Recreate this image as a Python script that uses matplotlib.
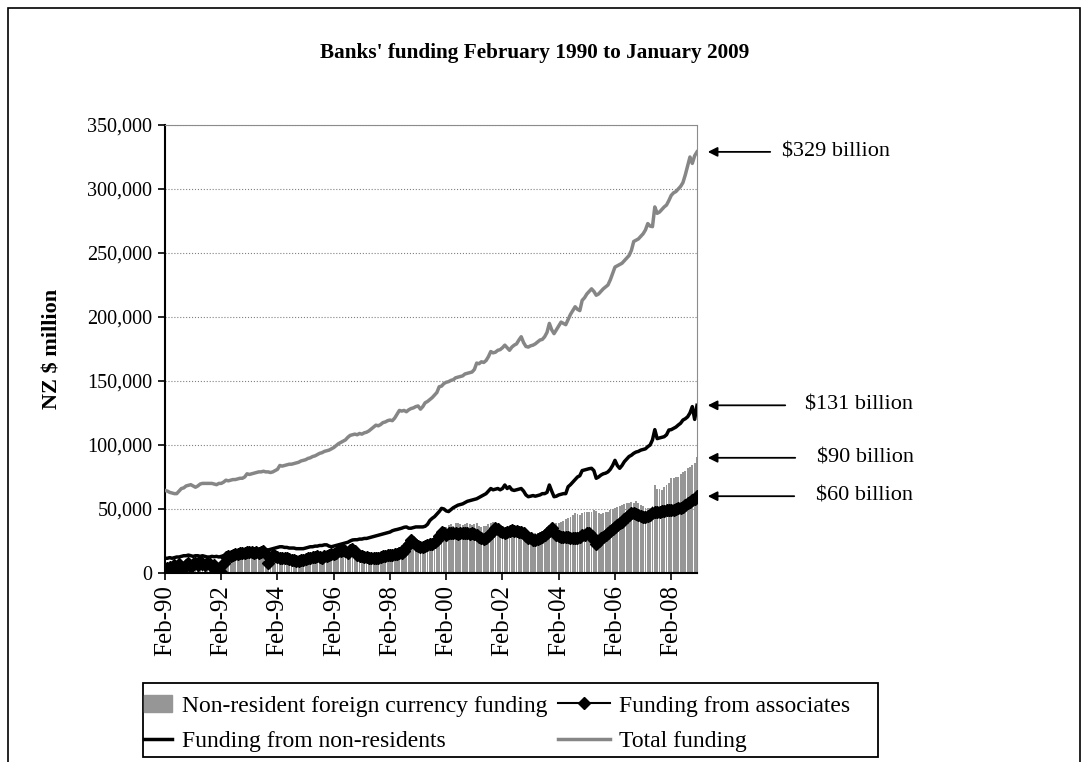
import numpy as np
import matplotlib
matplotlib.use("Agg")
import matplotlib.pyplot as plt
from matplotlib.ticker import FuncFormatter
from matplotlib.lines import Line2D
from matplotlib.patches import Patch, Rectangle

plt.rcParams['font.family'] = ['Liberation Serif', 'DejaVu Serif']

# monthly values, Feb-1990 .. Jan-2009, NZ$ billion (one row = Feb..Jan)
total_funding = [
    64.5, 64, 63, 62.5, 62, 62, 64, 66, 66.5, 68, 68.5, 69,
    68, 67, 68, 69.5, 70, 70, 70, 70, 70, 69.5, 69, 70,
    70, 71, 72.5, 72, 72.5, 73, 73, 73.5, 74, 74, 75, 77.5,
    77, 77.5, 78, 78.5, 79, 79, 79.5, 79, 79, 78.5, 79, 80,
    81, 84, 83.5, 84, 84.5, 85, 85, 85.5, 86, 86.5, 87.5, 88,
    88.5, 89.5, 90, 91, 91.5, 92.5, 93.5, 94, 95, 95.5, 96, 97,
    98, 99.5, 101, 102, 103, 104, 106, 107.5, 108, 108.5, 108, 109,
    108.5, 109.5, 110, 111, 112.5, 114, 115.5, 115, 116, 117.5, 118, 119,
    119.5, 119, 121, 124, 127, 126.5, 127, 126, 127.5, 128.5, 129, 130,
    130.5, 128, 130, 133, 134, 135.5, 137, 139, 141, 145.5, 146, 148,
    149, 149.5, 150.5, 151, 152.5, 153, 153.5, 154, 155.5, 156, 156.5, 157,
    159, 164, 163.5, 165, 164.5, 166, 169, 173, 172, 172.5, 174, 174.5,
    176, 178, 176, 174, 176.5, 178, 179, 182, 184.6, 180, 177, 176.5,
    177.5, 178, 179, 180.5, 182, 182.5, 184.6, 188, 195, 190, 187, 190,
    193, 196, 195, 194, 198, 202, 205, 208, 206, 205, 213, 215,
    218, 220, 222, 220, 217, 218, 220, 222, 223.5, 225, 229, 234,
    239, 240, 241, 242, 244, 246, 248, 252, 259, 260, 261, 263,
    265, 268, 273, 271, 270.6, 286, 281, 282, 284, 286, 287.5, 291,
    295, 297, 298, 300, 302, 305, 311, 318, 325, 320, 326, 329,
]

non_residents = [
    11.5, 11.5, 12, 11.5, 12, 12.5, 12.5, 13, 13.5, 13.5, 14, 13.5,
    13, 13.5, 13.5, 13, 13.5, 13, 12.5, 12.5, 13, 12.7, 13, 12.5,
    13, 13.5, 14, 14, 14.5, 15, 15, 15.5, 16, 16.5, 17, 17.5,
    18, 18, 18, 18, 18.5, 18, 18, 18, 18, 18.5, 19, 19.5,
    20, 20.5, 20.5, 20, 20, 19.5, 19.5, 19.5, 19, 19, 19, 19,
    19.5, 20, 20.5, 20.5, 21, 21, 21.5, 21.5, 22, 22, 21, 20.5,
    21, 21.5, 22, 22.5, 23, 23.5, 24, 25, 25.8, 26, 26, 26.5,
    26.5, 27, 27, 27.5, 28, 28.5, 29, 29.5, 30, 30.5, 31, 31.5,
    32, 33, 33.6, 34, 34.5, 35, 35.7, 36, 35, 35, 35.5, 36,
    36, 36, 36, 36.5, 38, 41, 42.7, 44, 46, 48, 50.5, 50,
    48.5, 48, 49.5, 51, 52, 53, 53.5, 54, 55, 56, 56.5, 57,
    57.5, 58, 59, 60, 61, 62, 64, 66, 65, 65.5, 66, 65,
    66, 68.75, 66, 67.4, 65, 64.5, 65, 65.5, 66, 64, 61, 59.6,
    60, 60.5, 60, 60.5, 61, 62, 62, 63, 68.75, 64, 59.6, 60,
    61, 61.5, 62, 62, 67.4, 69, 71, 73, 75, 76, 80, 80.5,
    81, 81.5, 81.8, 80, 74, 75, 76.5, 77.5, 78, 79, 81, 84,
    88, 84, 81.8, 84, 87, 89, 91, 92, 93.5, 94.5, 95, 96,
    96.5, 97, 98.7, 100, 104, 112, 105, 105.5, 106, 106.5, 108, 111.7,
    112, 113, 114, 115.6, 117, 119.5, 120.5, 122, 125, 130, 120, 131,
]

associates = [
    2, 4, 5, 3, 6, 4, 7, 5, 4, 6, 8, 5,
    7, 8, 6, 9, 7, 6, 8, 7, 5, 6, 3, 1,
    0.5, 8, 12.7, 13, 13.5, 14, 14.5, 15, 15.6, 16, 15.5, 16.5,
    16.5, 16.7, 16, 16.5, 16, 16.5, 17, 15, 8, 12, 14, 13,
    12.5, 12, 11.5, 11.5, 12, 11, 10.5, 10, 9.5, 9, 10, 10.5,
    11, 11.5, 12, 12.5, 12.7, 13, 12.5, 12, 13, 13.5, 14, 14.5,
    15, 16, 17, 17.5, 18, 17, 16, 18, 19, 17, 14, 13.5,
    13, 12.7, 12.5, 12, 11.5, 11.5, 11.5, 12, 12.5, 13, 13.5, 14,
    14, 14, 14.5, 15, 15.4, 16, 17, 20, 23, 25.8, 24, 22,
    21, 20.5, 20.5, 21, 22, 22.5, 23, 24, 26, 29, 32, 31.5,
    30, 31, 31, 31.5, 31, 30.5, 31, 31.5, 31, 31, 30.5, 31,
    30.5, 30, 28, 27, 26.5, 27.5, 29, 31, 33, 35, 34, 33,
    32, 31.5, 32, 33, 33.6, 33, 32.5, 32, 32, 31, 29, 27,
    27, 26, 26, 26.5, 27, 28, 29.5, 31, 33, 35, 32, 30,
    29, 28.5, 28, 28, 28, 27.5, 27, 27, 27.5, 28.5, 29.5, 30,
    31, 31, 29, 26, 23, 25, 27, 28.5, 30, 31, 32.5, 34,
    36, 37.5, 38.8, 40, 42, 44, 45.5, 46.5, 46.6, 46, 45, 44.5,
    44, 44, 44.5, 45.5, 46.5, 47.5, 48, 48, 48.5, 48.5, 49, 49,
    49, 49.5, 50, 50.5, 50.5, 51.5, 53, 54.5, 55.7, 57, 58, 60,
]

foreign_currency = [
    1.5, 2, 2.5, 2, 3, 2.5, 3, 3.5, 3, 3.5, 4, 3.5,
    4, 3.5, 4, 5, 4.5, 4, 5, 4.5, 4, 3.5, 2, 1,
    1, 6, 10, 10.5, 11, 11, 11.5, 12, 12, 12.5, 12.5, 13,
    13, 13.5, 13, 13.5, 13, 13, 13.5, 12, 7, 10, 11, 11,
    10.5, 10, 10, 9.5, 10, 9.5, 9, 8.5, 8, 8, 8.5, 9,
    9, 9.5, 10, 10.5, 11, 11, 10.5, 10.5, 11, 11.5, 12, 12,
    12.5, 13, 14, 14.5, 15, 14.5, 14, 15.5, 16, 15, 12, 11.5,
    11, 11, 10.5, 10.5, 10, 10, 10, 10.5, 11, 11.5, 12, 12.5,
    13, 14, 15, 17, 20, 22, 21, 22, 23, 24, 22, 21,
    20.5, 21, 21, 22, 23, 24, 25, 27, 30, 33, 35, 36,
    36, 37.5, 38, 37, 38.8, 39, 38, 37.5, 38, 39, 38, 37.5,
    38, 39, 37, 36, 36.5, 37, 38, 39, 40, 39, 38, 37,
    36, 35, 34.5, 35, 34, 34, 33, 33.5, 33, 32, 31, 30,
    30, 30.5, 31, 31, 32, 33, 33, 34, 35, 33, 34, 39,
    39, 40, 41, 42, 42.7, 44, 45, 46.6, 46, 45, 47, 47.5,
    48, 48, 48, 49, 48.5, 46.6, 46, 47, 47.5, 48, 49, 50,
    51, 51.8, 52, 53, 54, 54.5, 55, 55.5, 55, 56, 55, 53,
    52, 51, 50.5, 51, 52, 68.75, 66, 65.5, 65, 67, 69, 70,
    74, 74, 75, 75, 77, 79, 80, 81.8, 82.5, 84, 86, 91,
]

tick_labels = ['Feb-90', 'Feb-92', 'Feb-94', 'Feb-96', 'Feb-98',
               'Feb-00', 'Feb-02', 'Feb-04', 'Feb-06', 'Feb-08']
end_labels = ['$329 billion', '$131 billion', '$90 billion', '$60 billion']
end_values = [329, 131, 90, 60]

x = np.arange(len(total_funding))

fig = plt.figure(figsize=(10.88, 7.62), dpi=100)
ax = fig.add_axes([165/1088, 1-573/762, 532/1088, 448/762])

ax.bar(x, np.array(foreign_currency)*1000, width=0.8, color='#969696', zorder=2)
ax.plot(x, np.array(non_residents)*1000, color='black', lw=2.5, zorder=3)
ax.plot(x, np.array(associates)*1000, color='black', lw=2.5, marker='D', ms=6.5, zorder=4)
ax.plot(x, np.array(total_funding)*1000, color='#868686', lw=2.5, zorder=5)

ax.set_xlim(0, len(x)-1)
ax.set_ylim(0, 350000)
ax.set_yticks(np.arange(0, 350001, 50000))
ax.yaxis.set_major_formatter(FuncFormatter(lambda v, p: f'{v:,.0f}'))
ax.set_xticks(np.arange(0, len(x), 24))
ax.set_xticklabels(tick_labels, rotation=90)
ax.tick_params(direction='out', length=5, width=1.2)
ax.tick_params(axis='y', labelsize=14.5, pad=4)
ax.tick_params(axis='x', labelsize=18, pad=4)
ax.grid(axis='y', color='#808080', ls=':', lw=0.8, zorder=0)
ax.set_axisbelow(True)
for s in ['top', 'right']:
    ax.spines[s].set_color('#8c8c8c')
for s in ['left', 'bottom']:
    ax.spines[s].set_linewidth(1.5)
ax.set_ylabel('NZ $ million', fontsize=16, fontweight='bold', labelpad=18)

fig.text(535/1088, 1-53/762, "Banks' funding February 1990 to January 2009",
         ha='center', va='center', fontsize=15.3, fontweight='bold')

# arrows pointing at the end values
for lab, v, tail, tx in zip(end_labels, end_values, [773, 788, 798, 797], [782, 805, 817, 816]):
    ax.annotate('', xy=((705-165)/532, v*1000), xytext=((tail-165)/532, v*1000),
                xycoords=('axes fraction', 'data'), textcoords=('axes fraction', 'data'),
                arrowprops=dict(arrowstyle='-|>', color='black', lw=1.3, mutation_scale=14),
                annotation_clip=False)
    ax.text((tx-165)/532, v*1000, lab, transform=ax.get_yaxis_transform(),
            ha='left', va='center', fontsize=16)

# legend: two columns with their own handle lengths, one shared frame
leg_kw = dict(loc='upper left', fontsize=17, frameon=False, borderpad=0,
              borderaxespad=0, handletextpad=0.4, labelspacing=0.6, numpoints=1)
leg1 = fig.legend([Patch(color='#969696'), Line2D([], [], color='black', lw=2.5)],
                  ['Non-resident foreign currency funding', 'Funding from non-residents'],
                  bbox_to_anchor=(144/1088, 1-695/762), handlelength=1.2, **leg_kw)
leg2 = fig.legend([Line2D([], [], color='black', lw=1.5, marker='D', ms=6),
                   Line2D([], [], color='#868686', lw=2.5)],
                  ['Funding from associates', 'Total funding'],
                  bbox_to_anchor=(558/1088, 1-695/762), handlelength=2.2, **leg_kw)
fig.add_artist(Rectangle((143/1088, 1-757/762), 735/1088, 74/762, transform=fig.transFigure,
                         fill=False, edgecolor='black', lw=1.3))

# outer chart frame
fig.add_artist(Rectangle((8/1088, -0.05), 1072/1088, 1.05-8/762, transform=fig.transFigure,
                         fill=False, edgecolor='black', lw=1.2))

fig.savefig('out.png', dpi=100)
